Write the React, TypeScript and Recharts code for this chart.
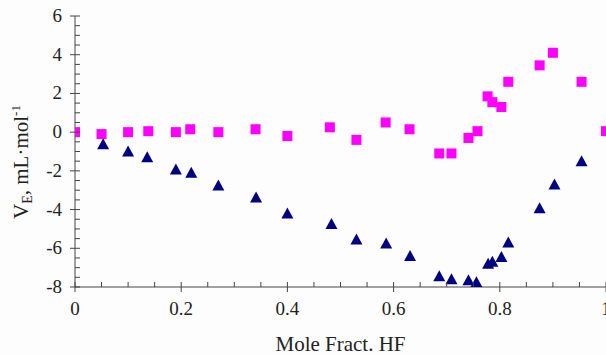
import { ScatterChart, Scatter, XAxis, YAxis } from "recharts";

// mole fraction HF (x) and excess volume V_E (mL/mol)
const squareX = [0, 0.05, 0.1, 0.138, 0.19, 0.217, 0.27, 0.34, 0.4, 0.48, 0.53, 0.585, 0.63, 0.686, 0.709, 0.741, 0.758, 0.777, 0.786, 0.803, 0.816, 0.875, 0.9, 0.954, 1.0];
const squareY = [0, -0.1, 0, 0.05, 0, 0.15, 0, 0.15, -0.2, 0.25, -0.4, 0.5, 0.15, -1.1, -1.1, -0.3, 0.05, 1.85, 1.55, 1.3, 2.6, 3.45, 4.1, 2.6, 0.05];

const triangleX = [0.053, 0.1, 0.136, 0.19, 0.219, 0.27, 0.341, 0.4, 0.483, 0.53, 0.586, 0.631, 0.686, 0.709, 0.741, 0.756, 0.778, 0.786, 0.803, 0.816, 0.875, 0.903, 0.954];
const triangleY = [-0.62, -1.0, -1.3, -1.93, -2.1, -2.75, -3.37, -4.2, -4.75, -5.55, -5.75, -6.4, -7.45, -7.6, -7.65, -7.75, -6.8, -6.7, -6.45, -5.7, -3.93, -2.7, -1.5];

const xMajor = [0, 0.2, 0.4, 0.6, 0.8, 1];
const xLabels = ["0", "0.2", "0.4", "0.6", "0.8", "1"];
const yMajor = [-8, -6, -4, -2, 0, 2, 4, 6];

const squares = squareX.map((x, i) => ({ x, y: squareY[i] }));
const triangles = triangleX.map((x, i) => ({ x, y: triangleY[i] }));

// 3 minor ticks between each pair of major ticks
const withMinors = (major: number[]) => {
  const out: number[] = [];
  for (let i = 0; i < major.length - 1; i++) {
    const step = (major[i + 1] - major[i]) / 4;
    for (let k = 0; k < 4; k++) out.push(+(major[i] + k * step).toFixed(4));
  }
  out.push(major[major.length - 1]);
  return out;
};
const xTicks = withMinors(xMajor);
const yTicks = withMinors(yMajor);

const AXIS = "#444";
const FONT = "'Liberation Serif', 'Times New Roman', serif";

const isMajor = (v: number, list: number[]) => list.some((m) => Math.abs(m - v) < 1e-6);

const XTick = (props: any) => {
  const { x, y, payload } = props;
  const v = payload.value;
  if (!isMajor(v, xMajor)) {
    return <line x1={x} y1={y - 5} x2={x} y2={y} stroke={AXIS} />;
  }
  const idx = xMajor.findIndex((m) => Math.abs(m - v) < 1e-6);
  return (
    <g>
      <line x1={x} y1={y - 5} x2={x} y2={y + 5} stroke={AXIS} />
      <text x={x} y={y + 28} textAnchor="middle" fontSize={19} fill="#222" fontFamily={FONT}>
        {xLabels[idx]}
      </text>
    </g>
  );
};

const YTick = (props: any) => {
  const { x, y, payload } = props;
  const v = payload.value;
  if (!isMajor(v, yMajor)) {
    return <line x1={x} y1={y} x2={x + 5} y2={y} stroke={AXIS} />;
  }
  return (
    <g>
      <line x1={x - 5} y1={y} x2={x + 5} y2={y} stroke={AXIS} />
      <text x={x - 13} y={y + 6} textAnchor="end" fontSize={19} fill="#222" fontFamily={FONT}>
        {v}
      </text>
    </g>
  );
};

const Square = (props: any) => {
  const { cx, cy } = props;
  return <rect x={cx - 5} y={cy - 5} width={10} height={10} fill="#ff00ff" />;
};

const Triangle = (props: any) => {
  const { cx, cy } = props;
  return <polygon points={`${cx},${cy - 6} ${cx - 6},${cy + 5} ${cx + 6},${cy + 5}`} fill="#000080" />;
};

const YLabel = () => (
  <text
    transform="translate(28,162) rotate(-90)"
    textAnchor="middle"
    fontSize={21}
    fill="#222"
    fontFamily={FONT}
  >
    V<tspan fontSize={14} dy={4}>E</tspan>
    <tspan dy={-4}>, mL·mol</tspan>
    <tspan fontSize={13} dy={-8}>-1</tspan>
  </text>
);

export default function App() {
  return (
    <div
      style={{
        position: "absolute",
        left: 0,
        top: 0,
        width: 606,
        height: 355,
        overflow: "hidden",
        background: "#fdfdfd",
      }}
    >
      <ScatterChart width={620} height={355} margin={{ top: 16, right: 14, left: 0, bottom: 0 }}>
        <XAxis
          type="number"
          dataKey="x"
          domain={[0, 1]}
          ticks={xTicks}
          interval={0}
          tick={<XTick />}
          tickLine={false}
          tickSize={0}
          tickMargin={0}
          stroke={AXIS}
          height={68}
          allowDataOverflow
          label={{
            value: "Mole Fract. HF",
            position: "insideBottom",
            offset: 4,
            fontSize: 21,
            fill: "#222",
            fontFamily: FONT,
          }}
        />
        <YAxis
          type="number"
          dataKey="y"
          domain={[-8, 6]}
          ticks={yTicks}
          interval={0}
          tick={<YTick />}
          tickLine={false}
          tickSize={0}
          tickMargin={0}
          stroke={AXIS}
          width={75}
          allowDataOverflow
          label={{ content: () => <YLabel /> }}
        />
        <Scatter data={squares} shape={<Square />} isAnimationActive={false} />
        <Scatter data={triangles} shape={<Triangle />} isAnimationActive={false} />
      </ScatterChart>
    </div>
  );
}
